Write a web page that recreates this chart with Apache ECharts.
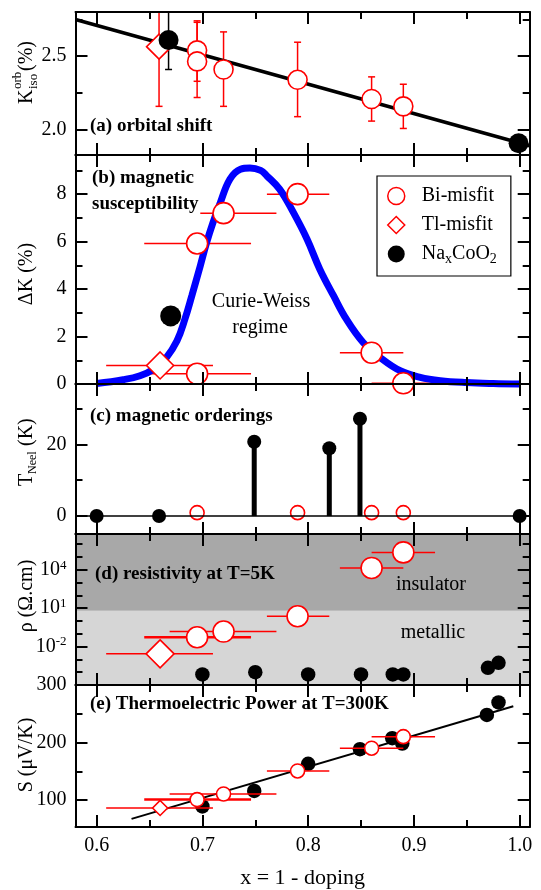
<!DOCTYPE html>
<html>
<head>
<meta charset="utf-8">
<script src="https://cdn.jsdelivr.net/npm/echarts@6/dist/echarts.min.js"></script>
<style>
  html, body { margin: 0; padding: 0; background: #fff; }
  #main { width: 541px; height: 890px; }
</style>
</head>
<body>
<div id="main"></div>
<script>
// ---- shared x axis ----
var xMajor = [0.6, 0.7, 0.8, 0.9, 1.0];
var xMinor = [0.65, 0.75, 0.85, 0.95];

// ---- (a) orbital shift ----
var aBiX = [0.695, 0.695, 0.72, 0.79, 0.86, 0.89];
var aBiY = [2.54, 2.465, 2.41, 2.34, 2.21, 2.16];
var aBiLo = [2.33, 2.22, 2.16, 2.09, 2.06, 2.01];
var aBiHi = [2.74, 2.73, 2.665, 2.595, 2.36, 2.31];
var aTlX = [0.659];
var aTlY = [2.565];
var aTlLo = [2.16];
var aTlHi = [2.97];
var aNaX = [0.668, 0.999];
var aNaY = [2.61, 1.91];
var aNaErrX = [0.668];
var aNaErrLo = [2.41];
var aNaErrHi = [2.81];
var aFitX = [0.58, 1.0095];
var aFitY = [2.749, 1.893];
var aTicks = [2.0, 2.5];
var aMinor = [2.25, 2.75];

// ---- (b) magnetic susceptibility ----
var bBiX = [0.695, 0.72, 0.79, 0.86, 0.89, 0.695];
var bBiY = [5.92, 7.2, 8.0, 1.32, 0.03, 0.43];
var bBiXLo = [0.645, 0.698, 0.761, 0.83, 0.86, 0.645];
var bBiXHi = [0.746, 0.770, 0.820, 0.89, 0.92, 0.746];
var bTlX = [0.66];
var bTlY = [0.78];
var bTlXLo = [0.609];
var bTlXHi = [0.710];
var bNaX = [0.6, 0.67, 1.0];
var bNaY = [-0.03, 2.87, -0.01];
var curveX = [0.600, 0.625, 0.641, 0.654, 0.666, 0.676, 0.6835, 0.690, 0.698, 0.704, 0.710, 0.717,
              0.726, 0.736, 0.745, 0.755, 0.761, 0.773, 0.786, 0.799, 0.811, 0.824, 0.836, 0.852,
              0.868, 0.887, 0.906, 0.925, 0.95, 0.975, 1.0];
var curveY = [0.02, 0.18, 0.35, 0.63, 1.12, 1.82, 2.74, 3.72, 4.98, 5.96, 6.8, 7.65,
              8.63, 9.05, 9.1, 9.0, 8.77, 8.21, 7.23, 6.1, 4.84, 3.72, 2.74, 1.75,
              1.12, 0.56, 0.28, 0.14, 0.06, 0.02, 0.0];
var bTicks = [0, 2, 4, 6, 8];
var bMinor = [1, 3, 5, 7, 9];

// ---- (c) magnetic orderings ----
var cNaX = [0.6, 0.659, 0.749, 0.82, 0.849, 1.0];
var cNaY = [0, 0, 20.7, 18.9, 27.1, 0];
var cStemX = [0.749, 0.82, 0.849];
var cStemY = [20.7, 18.9, 27.1];
var cBiX = [0.695, 0.79, 0.86, 0.89];
var cBiY = [0.95, 0.95, 0.95, 0.95];
var cTicks = [0, 20];
var cMinor = [10, 30];

// ---- (d) resistivity at T=5K ----
var dBiX = [0.695, 0.72, 0.79, 0.86, 0.89];
var dBiY = [0.053, 0.148, 2.3, 1.35e4, 2.2e5];
var dBiXLo = [0.645, 0.669, 0.761, 0.83, 0.86];
var dBiXHi = [0.746, 0.770, 0.820, 0.89, 0.92];
var dBiErrW = [2.5, 1.5, 1.5, 1.5, 1.5];
var dTlX = [0.66];
var dTlY = [0.0027];
var dTlXLo = [0.609];
var dTlXHi = [0.710];
var dNaX = [0.70, 0.75, 0.80, 0.85, 0.88, 0.89, 0.97, 0.98];
var dNaY = [6.6e-5, 1.0e-4, 6.6e-5, 6.6e-5, 6.6e-5, 6.6e-5, 2.2e-4, 5.4e-4];
var dBoundary = 6.1;
var dTicks = [1e-2, 1e1, 1e4];
var dMinor = [1e-4, 1e-3, 1e-1, 1, 1e2, 1e3, 1e5, 1e6];

// ---- (e) thermoelectric power ----
var eNaX = [0.70, 0.749, 0.80, 0.849, 0.8795, 0.889, 0.969, 0.98];
var eNaY = [89.2, 116.2, 163.2, 188.6, 207.6, 198.4, 248.1, 269.7];
var eBiX = [0.695, 0.72, 0.79, 0.86, 0.89];
var eBiY = [101.1, 110.8, 150.8, 190.3, 210.3];
var eBiXLo = [0.645, 0.669, 0.761, 0.83, 0.86];
var eBiXHi = [0.746, 0.770, 0.820, 0.89, 0.92];
var eBiErrW = [2.5, 1.5, 1.5, 1.5, 1.5];
var eTlX = [0.66];
var eTlY = [86.5];
var eTlXLo = [0.609];
var eTlXHi = [0.710];
var eFitX = [0.633, 0.994];
var eFitY = [67.6, 263.2];
var eTicks = [100, 200, 300];
var eMinor = [150, 250];

var FONT = 'Liberation Serif';
var RED = '#ff0000';
var X_MIN = 0.58, X_MAX = 1.0095;
var GRID_TOP = [12, 155, 384, 534, 685];
var GRID_H = [143, 229, 150, 151, 151];

var ySpec = [
  { min: 1.83, max: 2.80, major: aTicks, minor: aMinor, fmt: function (v) { return v.toFixed(1); } },
  { min: 0, max: 9.65, major: bTicks, minor: bMinor, fmt: function (v) { return String(v); } },
  { min: -5, max: 36.8, major: cTicks, minor: cMinor, fmt: function (v) { return String(v); } },
  { type: 'log', min: 1e-5, max: 6e6, major: dTicks, minor: dMinor,
    fmt: function (v) { return '10{sup|' + Math.round(Math.log10(v)) + '}'; } },
  { min: 53.5, max: 300, major: eTicks, minor: eMinor, fmt: function (v) { return String(v); } }
];

function pts(xs, ys) {
  return xs.map(function (x, i) { return [x, ys[i]]; });
}

function xAx(g, pos, ticks, len, line, labels) {
  var ax = {
    type: 'value', gridIndex: g, position: pos, min: X_MIN, max: X_MAX, z: 5,
    axisLine: { show: line, onZero: false, lineStyle: { color: '#000', width: 2 } },
    axisTick: { show: true, inside: true, length: len, customValues: ticks,
                lineStyle: { color: '#000', width: 2 } },
    axisLabel: { show: false },
    splitLine: { show: false }
  };
  if (labels) {
    ax.axisLabel = { show: true, customValues: xMajor, margin: 9, color: '#000',
                     fontFamily: FONT, fontSize: 20,
                     formatter: function (v) { return v.toFixed(1); } };
    ax.name = 'x = 1 - doping';
    ax.nameLocation = 'middle';
    ax.nameGap = 40;
    ax.nameTextStyle = { fontFamily: FONT, fontSize: 22, color: '#000' };
  }
  return ax;
}

function yAx(g, s, pos, ticks, len, line, labels) {
  var ax = {
    type: s.type || 'value', gridIndex: g, position: pos, min: s.min, max: s.max, z: 5,
    axisLine: { show: line, onZero: false, lineStyle: { color: '#000', width: 2 } },
    axisTick: { show: true, inside: true, length: len, customValues: ticks,
                lineStyle: { color: '#000', width: 2 } },
    axisLabel: { show: false },
    splitLine: { show: false }
  };
  if (s.type === 'log') ax.logBase = 10;
  if (labels) {
    ax.axisLabel = { show: true, customValues: s.major, margin: 9, color: '#000',
                     fontFamily: FONT, fontSize: 20, formatter: s.fmt,
                     rich: { sup: { fontFamily: FONT, fontSize: 13, color: '#000', padding: [0, 0, 9, 0] } } };
  }
  return ax;
}

var grid = [], xAxis = [], yAxis = [];
for (var g = 0; g < 5; g++) {
  grid.push({ left: 75.5, right: 11.3, top: GRID_TOP[g], height: GRID_H[g] });
  xAxis.push(xAx(g, 'bottom', xMajor, 12, true, g === 4));
  xAxis.push(xAx(g, 'top', xMajor, 12, true, false));
  xAxis.push(xAx(g, 'bottom', xMinor, 7, false, false));
  xAxis.push(xAx(g, 'top', xMinor, 7, false, false));
  var s = ySpec[g];
  yAxis.push(yAx(g, s, 'left', s.major, 12, true, true));
  yAxis.push(yAx(g, s, 'right', s.major, 12, true, false));
  yAxis.push(yAx(g, s, 'left', s.minor, 7, false, false));
  yAxis.push(yAx(g, s, 'right', s.minor, 7, false, false));
}

// horizontal error bars: data [x, y, xlo, xhi, width]
function xErr(g, xs, ys, lo, hi, widths, z) {
  return {
    type: 'custom', xAxisIndex: 4 * g, yAxisIndex: 4 * g, z: z || 2, clip: true, silent: true,
    data: xs.map(function (x, i) { return [x, ys[i], lo[i], hi[i], widths ? widths[i] : 1.5]; }),
    renderItem: function (params, api) {
      var y = api.value(1);
      var p1 = api.coord([api.value(2), y]);
      var p2 = api.coord([api.value(3), y]);
      return { type: 'line', shape: { x1: p1[0], y1: p1[1], x2: p2[0], y2: p2[1] },
               style: { stroke: RED, lineWidth: api.value(4) } };
    }
  };
}

// vertical error bars with caps: data [x, ylo, yhi]
function yErr(g, xs, lo, hi, color) {
  return {
    type: 'custom', xAxisIndex: 4 * g, yAxisIndex: 4 * g, z: 2, clip: true, silent: true,
    data: xs.map(function (x, i) { return [x, lo[i], hi[i]]; }),
    renderItem: function (params, api) {
      var x = api.value(0);
      var a = api.coord([x, api.value(1)]);
      var b = api.coord([x, api.value(2)]);
      var st = { stroke: color, lineWidth: 1.5 };
      var c = 3.5;
      return { type: 'group', children: [
        { type: 'line', shape: { x1: a[0], y1: a[1], x2: b[0], y2: b[1] }, style: st },
        { type: 'line', shape: { x1: a[0] - c, y1: a[1], x2: a[0] + c, y2: a[1] }, style: st },
        { type: 'line', shape: { x1: b[0] - c, y1: b[1], x2: b[0] + c, y2: b[1] }, style: st }
      ] };
    }
  };
}

function scat(g, name, xs, ys, symbol, size, open, z) {
  return {
    type: 'scatter', name: name, xAxisIndex: 4 * g, yAxisIndex: 4 * g, z: z || 4,
    symbol: symbol, symbolSize: size, data: pts(xs, ys), silent: true,
    itemStyle: open ? { color: '#fff', borderColor: RED, borderWidth: 1.6, opacity: 1 }
                    : { color: '#000', opacity: 1 }
  };
}

function fitLine(g, xs, ys, w, color, z) {
  return {
    type: 'line', xAxisIndex: 4 * g, yAxisIndex: 4 * g, z: z || 2, data: pts(xs, ys),
    showSymbol: false, symbol: 'none', silent: true, clip: true,
    lineStyle: { color: color || '#000', width: w }
  };
}

var series = [
  // (a)
  fitLine(0, aFitX, aFitY, 3.5),
  yErr(0, aBiX, aBiLo, aBiHi, RED),
  yErr(0, aTlX, aTlLo, aTlHi, RED),
  yErr(0, aNaErrX, aNaErrLo, aNaErrHi, '#000'),
  scat(0, 'Tl-misfit', aTlX, aTlY, 'diamond', 25, true),
  scat(0, 'Bi-misfit', aBiX, aBiY, 'circle', 19, true),
  scat(0, 'NaxCoO2', aNaX, aNaY, 'circle', 20, false, 5),
  // (b)
  xErr(1, bBiX, bBiY, bBiXLo, bBiXHi),
  xErr(1, bTlX, bTlY, bTlXLo, bTlXHi),
  {
    type: 'line', xAxisIndex: 4, yAxisIndex: 4, z: 3, data: pts(curveX, curveY),
    smooth: 0.4, showSymbol: false, symbol: 'none', silent: true, clip: false,
    lineStyle: { color: '#0000ff', width: 7 }
  },
  scat(1, 'Tl-misfit', bTlX, bTlY, 'diamond', 27, true),
  scat(1, 'Bi-misfit', bBiX, bBiY, 'circle', 21, true),
  scat(1, 'NaxCoO2', bNaX, bNaY, 'circle', 21, false, 5),
  // (c)
  {
    type: 'bar', xAxisIndex: 8, yAxisIndex: 8, z: 2, data: pts(cStemX, cStemY),
    barWidth: 5, silent: true, itemStyle: { color: '#000' },
    markLine: { silent: true, symbol: 'none', label: { show: false },
                lineStyle: { color: '#000', width: 1.5, type: 'solid' },
                data: [{ yAxis: 0 }] }
  },
  scat(2, 'NaxCoO2', cNaX, cNaY, 'circle', 14, false),
  scat(2, 'Bi-misfit', cBiX, cBiY, 'circle', 14, true),
  // (d)
  {
    type: 'line', xAxisIndex: 12, yAxisIndex: 12, z: 1, data: [], silent: true,
    markArea: { silent: true, data: [
      [{ yAxis: 1e-5, itemStyle: { color: '#d6d6d6' } }, { yAxis: dBoundary }],
      [{ yAxis: dBoundary, itemStyle: { color: '#a8a8a8' } }, { yAxis: 6e6 }]
    ] }
  },
  xErr(3, dBiX, dBiY, dBiXLo, dBiXHi, dBiErrW),
  xErr(3, dTlX, dTlY, dTlXLo, dTlXHi),
  scat(3, 'Tl-misfit', dTlX, dTlY, 'diamond', 28, true),
  scat(3, 'Bi-misfit', dBiX, dBiY, 'circle', 21, true),
  scat(3, 'NaxCoO2', dNaX, dNaY, 'circle', 14.5, false),
  // (e)
  fitLine(4, eFitX, eFitY, 2),
  scat(4, 'NaxCoO2', eNaX, eNaY, 'circle', 14.5, false, 2),
  xErr(4, eBiX, eBiY, eBiXLo, eBiXHi, eBiErrW, 3),
  xErr(4, eTlX, eTlY, eTlXLo, eTlXHi, null, 3),
  scat(4, 'Tl-misfit', eTlX, eTlY, 'diamond', 15, true),
  scat(4, 'Bi-misfit', eBiX, eBiY, 'circle', 14, true)
];

function label(x, y, text, bold, align) {
  return { type: 'text', x: x, y: y, z: 100, silent: true,
           style: { text: text, fill: '#000', textAlign: align || 'left', textVerticalAlign: 'middle',
                    font: (bold ? 'bold 19px ' : '20px ') + FONT } };
}
function vlabel(x, y, text) {
  return { type: 'text', x: x, y: y, rotation: Math.PI / 2, z: 100, silent: true,
           style: { text: text, fill: '#000', textAlign: 'center', textVerticalAlign: 'middle',
                    font: '20px ' + FONT } };
}
function t(x, y, text, size) {
  return { type: 'text', x: x, y: y, style: { text: text, fill: '#000', textAlign: 'left',
           textVerticalAlign: 'middle', font: size + 'px ' + FONT } };
}

var graphic = [
  label(90, 126, '(a) orbital shift', true),
  label(92, 178, '(b) magnetic', true),
  label(92, 204, 'susceptibility', true),
  label(261, 302, 'Curie-Weiss', false, 'center'),
  label(260, 328, 'regime', false, 'center'),
  label(90, 416, '(c) magnetic orderings', true),
  label(95, 574, '(d) resistivity at T=5K', true),
  label(431, 585, 'insulator', false, 'center'),
  label(433, 633, 'metallic', false, 'center'),
  label(90, 704, '(e) Thermoelectric Power at T=300K', true),
  { type: 'group', x: 27, y: 74, rotation: Math.PI / 2, z: 100, silent: true, children: [
    t(-30, 0, 'K', 20), t(-15, -9, 'orb', 13), t(-15, 7, 'iso', 13), t(3, 0, '(%)', 20)
  ] },
  vlabel(27, 274, '\u0394K (%)'),
  { type: 'group', x: 27, y: 450, rotation: Math.PI / 2, z: 100, silent: true, children: [
    t(-36, 0, 'T', 20), t(-24, 6, 'Neel', 12), t(-1, 0, ' (K)', 20)
  ] },
  vlabel(27, 596, '\u03c1 (\u03a9.cm)'),
  vlabel(27, 755, 'S (\u03bcV/K)')
];

var chart = echarts.init(document.getElementById('main'));
chart.setOption({
  animation: false,
  backgroundColor: '#fff',
  grid: grid,
  xAxis: xAxis,
  yAxis: yAxis,
  legend: {
    left: 377, top: 176, orient: 'vertical', selectedMode: false,
    borderColor: '#000', borderWidth: 1.2, padding: [10, 14, 10, 10],
    itemWidth: 17, itemHeight: 17, itemGap: 9,
    textStyle: { fontFamily: FONT, fontSize: 20, color: '#000', padding: [0, 0, 0, 12],
                 rich: { sub: { fontFamily: FONT, fontSize: 14, color: '#000', padding: [10, 0, 0, 0] } } },
    formatter: function (name) { return name === 'NaxCoO2' ? 'Na{sub|x}CoO{sub|2}' : name; },
    data: [
      { name: 'Bi-misfit', icon: 'circle', itemStyle: { color: '#fff', borderColor: RED, borderWidth: 1.5 } },
      { name: 'Tl-misfit', icon: 'diamond', itemStyle: { color: '#fff', borderColor: RED, borderWidth: 1.5 } },
      { name: 'NaxCoO2', icon: 'circle', itemStyle: { color: '#000' } }
    ]
  },
  graphic: graphic,
  series: series
});
</script>
</body>
</html>
